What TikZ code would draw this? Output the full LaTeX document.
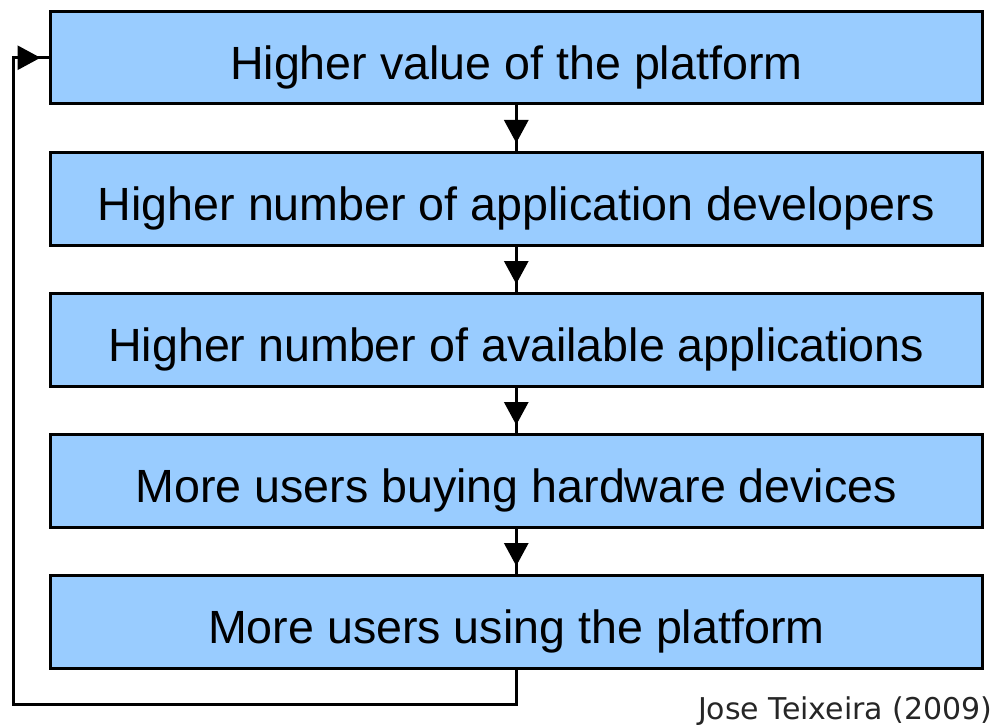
\documentclass[tikz,border=0pt]{standalone}
\usepackage{fontspec}
\setmainfont{Liberation Sans}
\newfontfamily\capfont{DejaVu Sans}
\usetikzlibrary{arrows.meta,decorations.markings}
\definecolor{boxblue}{HTML}{99CCFF}
\tikzset{
  stepbox/.style={draw=black, line width=1.5pt, fill=boxblue, minimum width=466.25pt,
    minimum height=46.25pt, inner sep=0pt, text=black, text height=25pt, text depth=3.3pt,
    font=\fontsize{23.3pt}{28pt}\selectfont},
  flowline/.style={draw=black, line width=1.5pt,
    postaction={decorate, decoration={markings,
      mark=at position -4pt with {\arrow{Triangle[length=11.5pt,width=12pt]}}}}},
}
\begin{document}
\begin{tikzpicture}[x=0.5pt,y=-0.5pt]
\useasboundingbox (0,0) rectangle (1000,727);
\node[stepbox] (b1) at (516.25,57.75) {Higher value of the platform};
\node[stepbox] (b2) at (516.25,198.75) {Higher number of application developers};
\node[stepbox] (b3) at (516.25,339.75) {Higher number of available applications};
\node[stepbox] (b4) at (516.25,480.75) {More users buying hardware devices};
\node[stepbox] (b5) at (516.25,621.75) {More users using the platform};
\draw[flowline] (b1.south) -- (b2.north);
\draw[flowline] (b2.south) -- (b3.north);
\draw[flowline] (b3.south) -- (b4.north);
\draw[flowline] (b4.south) -- (b5.north);
\coordinate (c1) at (516.25,704);
\coordinate (c2) at (13.5,704);
\coordinate (c3) at (13.5,57.75);
\draw[flowline] (b5.south) -- (c1) -- (c2) -- (c3) -- (b1.west);
\node[anchor=base east, inner sep=0pt, text=black!85, font=\capfont\fontsize{15pt}{18pt}\selectfont] (cap) at (993,719) {Jose Teixeira (2009)};
\end{tikzpicture}
\end{document}
